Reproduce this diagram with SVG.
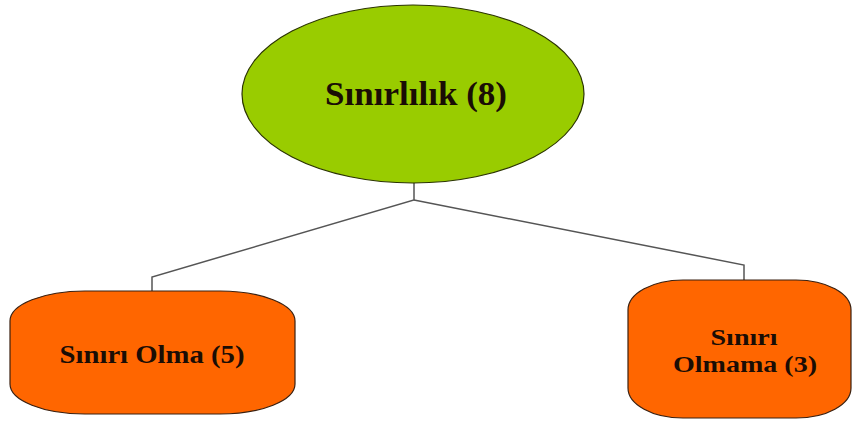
<svg xmlns="http://www.w3.org/2000/svg" width="853" height="421" viewBox="0 0 853 421">
  <style>
    .label { font-family: "Liberation Serif", "Times New Roman", serif; font-weight: bold; fill: #1a0d05; text-anchor: middle; }
    .link { fill: none; stroke: #555555; stroke-width: 1.5; }
    .leaf { fill: #ff6600; stroke: #3a2010; stroke-width: 1.2; }
  </style>
  <rect width="853" height="421" fill="#ffffff"/>

  <!-- tree connectors -->
  <g id="connectors">
    <polyline class="link" points="414,183 414,200 152,277 152,291"/>
    <polyline class="link" points="414,200 744,265 744,280"/>
  </g>

  <!-- root -->
  <g id="node-root">
    <ellipse cx="413" cy="94" rx="171" ry="89" fill="#99cc00" stroke="#2a3300" stroke-width="1.2"/>
    <text class="label" x="416" y="105" font-size="33" textLength="182" lengthAdjust="spacingAndGlyphs">Sınırlılık (8)</text>
  </g>

  <!-- left child -->
  <g id="node-left">
    <rect class="leaf" x="10" y="291" width="285" height="123" rx="75" ry="30"/>
    <text class="label" x="152" y="363" font-size="25" textLength="185" lengthAdjust="spacingAndGlyphs">Sınırı Olma (5)</text>
  </g>

  <!-- right child -->
  <g id="node-right">
    <rect class="leaf" x="628" y="280" width="223" height="138" rx="55" ry="30"/>
    <text class="label" x="744" y="345" font-size="24" textLength="67" lengthAdjust="spacingAndGlyphs">Sınırı</text>
    <text class="label" x="745" y="372" font-size="24" textLength="144" lengthAdjust="spacingAndGlyphs">Olmama (3)</text>
  </g>
</svg>
